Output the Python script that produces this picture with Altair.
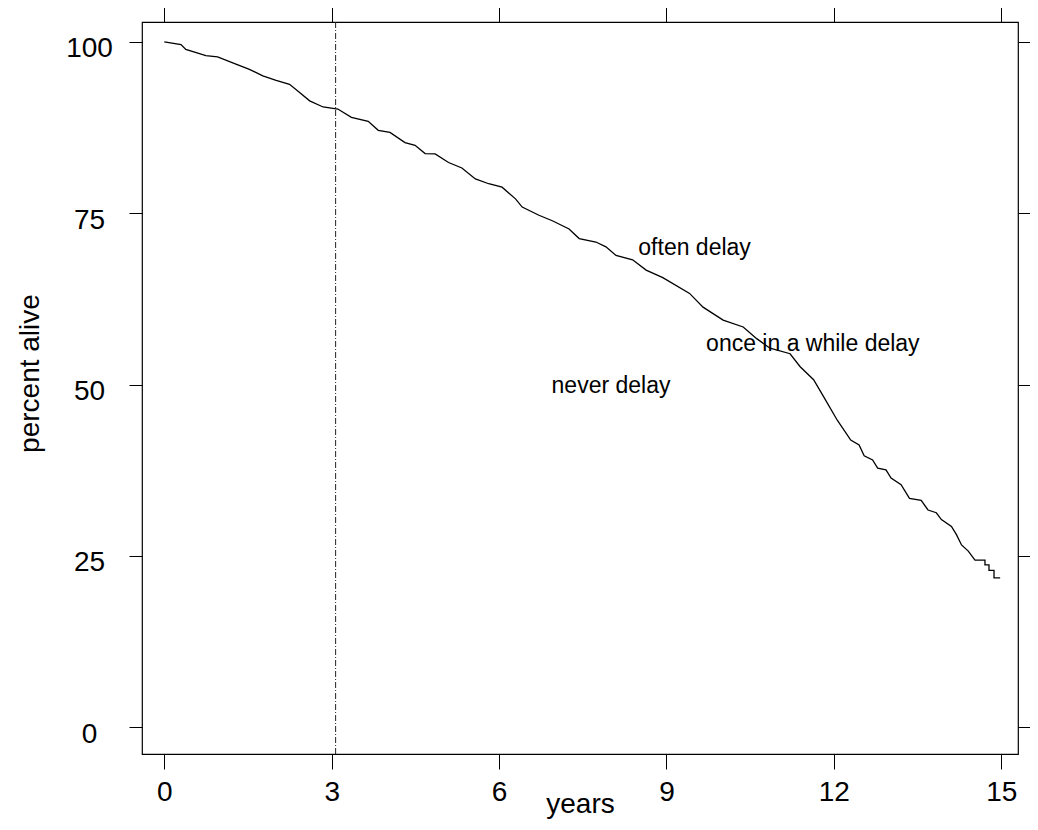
import altair as alt
import pandas as pd

# Survival curve
t_years = [0.0, 0.30, 0.385, 0.745, 0.955, 1.284, 1.525, 1.765, 2.004, 2.244, 2.425, 2.605,
           2.845, 3.11, 3.353, 3.654, 3.834, 4.044, 4.314, 4.494, 4.674, 4.854, 5.094, 5.333,
           5.575, 5.814, 6.053, 6.294, 6.414, 6.714, 6.954, 7.254, 7.435, 7.735, 7.915, 8.095,
           8.393, 8.635, 8.934, 9.414, 9.655, 10.015, 10.375, 10.617, 10.856, 11.215, 11.396,
           11.637, 11.818, 12.061, 12.302, 12.452, 12.543, 12.694, 12.785, 12.934, 13.025,
           13.205, 13.355, 13.565, 13.687, 13.836, 13.927, 14.107, 14.197, 14.288, 14.409,
           14.529, 14.708, 14.708, 14.78, 14.78, 14.87, 14.87, 14.98]
pct_alive = [100.0, 99.6, 98.9, 98.0, 97.8, 96.75, 96.0, 95.05, 94.4, 93.8, 92.6, 91.4,
             90.5, 90.2, 89.0, 88.4, 87.1, 86.8, 85.3, 84.9, 83.7, 83.65, 82.4, 81.6,
             80.0, 79.3, 78.8, 77.1, 75.9, 74.7, 73.9, 72.7, 71.3, 70.8, 70.1, 68.85,
             68.2, 66.7, 65.6, 63.3, 61.3, 59.4, 58.4, 56.7, 55.3, 54.5, 52.6,
             50.7, 48.2, 44.8, 41.9, 41.2, 39.6, 39.0, 37.8, 37.55, 36.35,
             35.4, 33.4, 33.1, 31.7, 31.3, 30.3, 29.3, 28.1, 26.6, 25.7,
             24.4, 24.4, 23.7, 23.7, 22.9, 22.9, 21.8, 21.8]

vline_year = [3.07]

label_text = ["often delay", "once in a while delay", "never delay"]
label_x = [8.495, 9.71, 6.94]
label_y = [68.85, 54.9, 48.8]

x_ticks = [0, 3, 6, 9, 12, 15]
y_ticks = [0, 25, 50, 75, 100]

x_domain = [-0.4, 15.3]
y_domain = [-3.9, 102.9]

FONT = "Liberation Sans"

curve = pd.DataFrame({"t": t_years, "p": pct_alive, "i": list(range(len(t_years)))})
vline = pd.DataFrame({"x": vline_year})
labels = pd.DataFrame({"x": label_x, "y": label_y, "label": label_text})

xs = alt.Scale(domain=x_domain, nice=False, zero=False)
ys = alt.Scale(domain=y_domain, nice=False, zero=False)

line = alt.Chart(curve).mark_line(color="black", strokeWidth=1.3, interpolate="linear").encode(
    x=alt.X("t:Q", scale=xs, axis=alt.Axis(
        orient="bottom", values=x_ticks, title="years", grid=False, domain=False,
        tickSize=15, tickColor="black", tickWidth=1,
        labelFont=FONT, labelFontSize=28, labelColor="black",
        labelBaseline="alphabetic", labelPadding=31, labelFlush=False, labelOverlap=False,
        titleFont=FONT, titleFontSize=28, titleFontWeight="normal", titleColor="black",
        titleX=438, titleY=58, titleBaseline="alphabetic", titleAlign="center")),
    y=alt.Y("p:Q", scale=ys, axis=alt.Axis(
        orient="left", values=y_ticks, title="percent alive", grid=False, domain=False,
        tickSize=13, tickColor="black", tickWidth=1,
        labelFont=FONT, labelFontSize=28, labelColor="black", labelAlign="center",
        labelBaseline="alphabetic", labelPadding=40, labelOffset=15, labelFlush=False,
        labelOverlap=False,
        titleFont=FONT, titleFontSize=28, titleFontWeight="normal", titleColor="black",
        titleX=-104, titleY=351, titleAngle=270, titleBaseline="alphabetic",
        titleAlign="center")),
    order="i:Q",
)

ghost = alt.Chart(curve).mark_point(opacity=0).encode(
    x=alt.X("t:Q", scale=xs, axis=alt.Axis(
        orient="top", values=x_ticks, title=None, labels=False, grid=False, domain=False,
        tickSize=15, tickColor="black", tickWidth=1)),
    y=alt.Y("p:Q", scale=ys, axis=alt.Axis(
        orient="right", values=y_ticks, title=None, labels=False, grid=False, domain=False,
        tickSize=15, tickColor="black", tickWidth=1)),
)

rule = alt.Chart(vline).mark_rule(color="#222222", strokeWidth=1, strokeDash=[6, 2, 1, 2]).encode(
    x=alt.X("x:Q", scale=xs, axis=None),
)

text = alt.Chart(labels).mark_text(
    align="left", baseline="alphabetic", font=FONT, fontSize=23, color="black"
).encode(
    x=alt.X("x:Q", scale=xs, axis=None),
    y=alt.Y("y:Q", scale=ys, axis=None),
    text="label:N",
)

chart = alt.layer(rule, line, text, ghost).resolve_scale(
    x="shared", y="shared"
).resolve_axis(
    x="independent", y="independent"
).properties(
    width=876, height=732,
    autosize=alt.AutoSizeParams(type="none"),
    padding={"left": 134, "top": 14, "right": 12, "bottom": 66},
    background="white",
).configure_view(
    stroke="black", strokeWidth=1.2, fill="white"
)

chart.save("out.html", embed_options={"renderer": "svg", "actions": False})
